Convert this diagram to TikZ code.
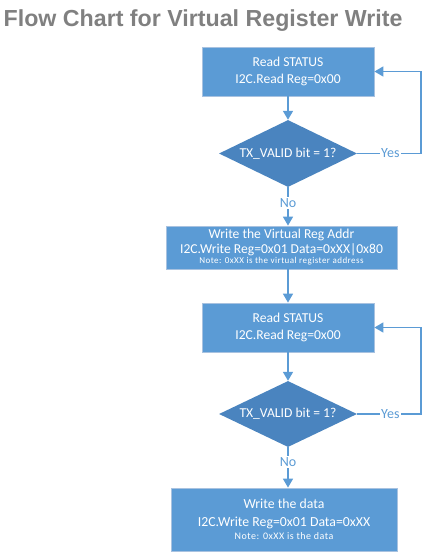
\documentclass[tikz,border=0pt]{standalone}
\usepackage{fontspec}
\setmainfont{Carlito}
\newfontfamily\titlefont{Liberation Sans}
\newfontfamily\notefont[LetterSpace=5]{Carlito}
\usetikzlibrary{shapes.geometric,arrows.meta}
\definecolor{boxblue}{HTML}{5B9BD5}
\definecolor{dblue}{HTML}{4A84BF}
\definecolor{edgeblue}{HTML}{A8C2E0}
\definecolor{linkblue}{HTML}{5B9BD5}
\definecolor{titlegray}{HTML}{808080}
\begin{document}
\begin{tikzpicture}[x=1pt,y=-1pt,
  procbox/.style={draw=edgeblue, line width=0.8pt, fill=boxblue, text=white, align=center, inner sep=0pt},
  decbox/.style={diamond, fill=dblue, text=white, inner sep=0pt, aspect=2, minimum width=138pt, minimum height=67pt, font=\fontsize{13.6}{16}\selectfont},
  link/.style={draw=linkblue, line width=1.6pt, -{Triangle[width=10pt,length=9pt]}},
  lab/.style={fill=white, text=linkblue, inner sep=1.5pt, font=\fontsize{14}{16}\selectfont}]
\useasboundingbox (0,0) rectangle (428,560);
\node[anchor=base west, inner sep=0pt, text=titlegray, font=\titlefont\bfseries\fontsize{23.2}{28}\selectfont] (title) at (3.5,26.7) {Flow Chart for Virtual Register Write};

\node[procbox, minimum width=172pt, minimum height=49pt, font=\fontsize{13.6}{17}\selectfont] (b1) at (288,71.5) {Read STATUS\\I2C.Read Reg=0x00};
\node[decbox] (d1) at (288,153.5) {TX\_VALID bit = 1?};
\node[procbox, minimum width=231pt, minimum height=43pt, font=\fontsize{13.6}{14.5}\selectfont] (b2) at (281.5,247.5) {Write the Virtual Reg Addr\\I2C.Write Reg=0x01 Data=0xXX|0x80\\[-4pt]{\notefont\fontsize{9}{10}\selectfont Note: 0xXX is the virtual register address}};
\node[procbox, minimum width=172pt, minimum height=49pt, font=\fontsize{13.6}{17}\selectfont] (b3) at (288,327.5) {Read STATUS\\I2C.Read Reg=0x00};
\node[decbox, minimum height=66pt] (d2) at (288,414) {TX\_VALID bit = 1?};
\node[procbox, minimum width=226pt, minimum height=63pt, font=\fontsize{13.8}{18}\selectfont] (b4) at (284,519.5) {Write the data\\I2C.Write Reg=0x01 Data=0xXX\\[-5pt]{\notefont\fontsize{10}{11}\selectfont Note: 0xXX is the data}};

\coordinate (loop1) at (421,153.5);
\coordinate (loop2) at (421,414);

\draw[link] (b1) -- (d1);
\draw[link] (d1.south) -- node[lab, pos=0.41] {No} (d1.south |- b2.north);
\draw[link] (d1.east) -- node[lab, pos=0.52] {Yes} (loop1) |- (b1.east);
\draw[link] (b3.north |- b2.south) -- (b3.north);
\draw[link] (b3) -- (d2);
\draw[link] (d2.south) -- node[lab, pos=0.37] {No} (d2.south |- b4.north);
\draw[link] (d2.east) -- node[lab, pos=0.52] {Yes} (loop2) |- (b3.east);
\end{tikzpicture}
\end{document}
